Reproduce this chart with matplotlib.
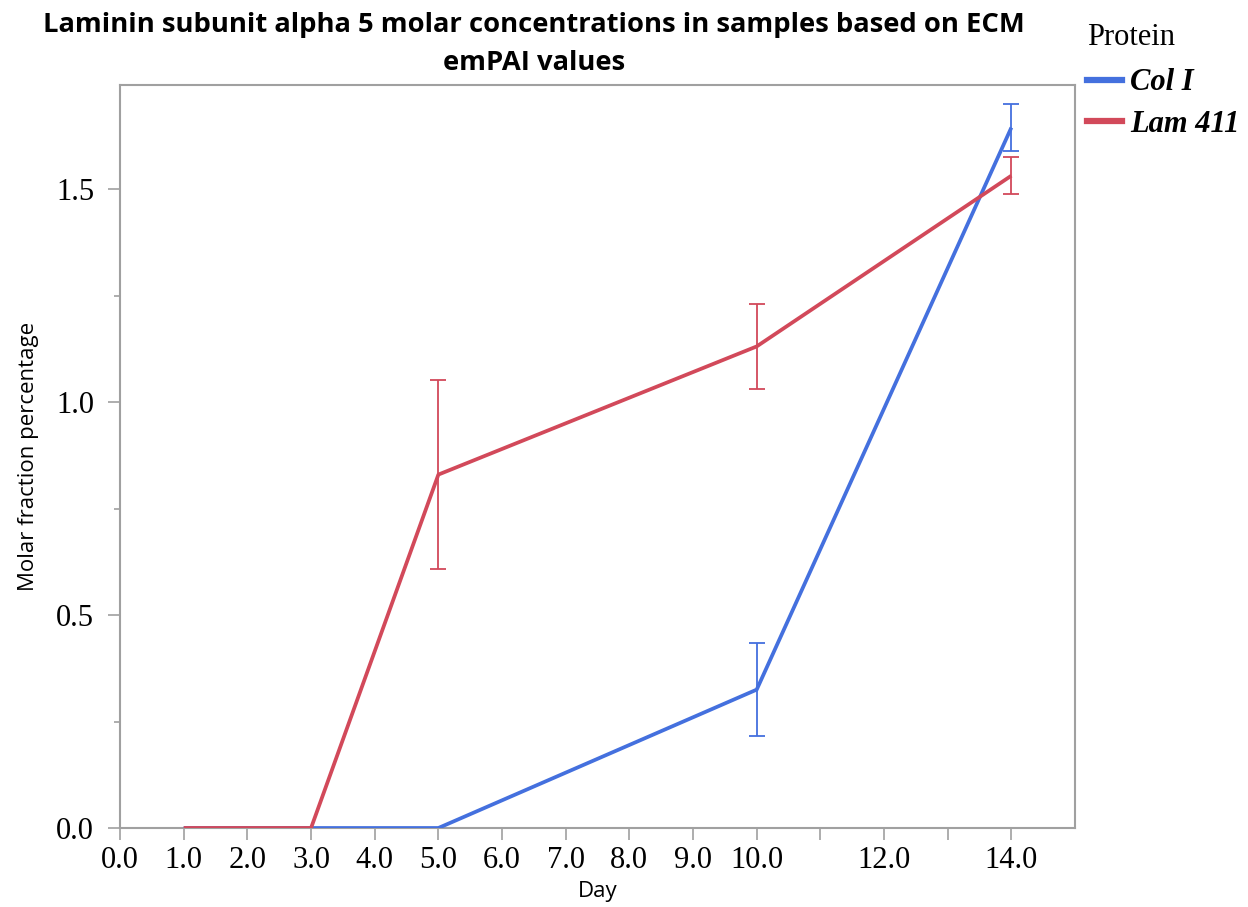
import matplotlib
matplotlib.use("Agg")
from matplotlib import pyplot as plt
from matplotlib.lines import Line2D

# данные
days = [1, 3, 5, 10, 14]
col_i = [0.0, 0.0, 0.0, 0.325, 1.645]
col_i_err = [0.0, 0.0, 0.0, 0.109, 0.055]
lam_411 = [0.0, 0.0, 0.83, 1.131, 1.532]
lam_411_err = [0.0, 0.0, 0.222, 0.10, 0.044]
series_names = ["Col I", "Lam 411"]
colors = ["#4470DE", "#D2495A"]
x_ticks = [0, 1, 2, 3, 4, 5, 6, 7, 8, 9, 10, 12, 14]
x_minor = [11, 13]
y_ticks = [0.0, 0.5, 1.0, 1.5]
y_minor = [0.25, 0.75, 1.25]

fig = plt.figure(figsize=(12.48, 9.07), dpi=100, facecolor="white")
ax = fig.add_axes([0.0962, 0.0871, 0.7652, 0.8192])

# линии с ошибками
for vals, errs, c in [(col_i, col_i_err, colors[0]), (lam_411, lam_411_err, colors[1])]:
    ax.plot(days, vals, color=c, lw=2.7, solid_capstyle="butt", zorder=3)
    idx = [i for i, e in enumerate(errs) if e > 0]
    ax.errorbar([days[i] for i in idx], [vals[i] for i in idx], yerr=[errs[i] for i in idx],
                fmt="none", ecolor=c, elinewidth=1.3, capsize=6, capthick=1.3, zorder=2)

ax.set_xlim(0, 15)
ax.set_ylim(0, 1.745)
ax.set_xticks(x_ticks)
ax.set_xticklabels(["%.1f" % t for t in x_ticks], fontfamily="Liberation Serif", fontsize=22)
ax.set_xticks(x_minor, minor=True)
ax.set_yticks(y_ticks)
ax.set_yticklabels(["%.1f" % t for t in y_ticks], fontfamily="Liberation Serif", fontsize=22)
ax.set_yticks(y_minor, minor=True)
ax.tick_params(which="major", length=8.6, width=1.2, color="#A0A0A0")
ax.tick_params(axis="y", which="major", pad=10)
ax.tick_params(axis="x", which="major", pad=4)
ax.tick_params(which="minor", length=4.3, width=1.2, color="#A0A0A0")
ax.tick_params(axis="x", which="minor", length=8.6)
for s in ax.spines.values():
    s.set_color("#A0A0A0")
    s.set_linewidth(1.5)

ax.set_xlabel("Day", fontfamily="Open Sans", fontsize=16, labelpad=5)
ax.set_ylabel("Molar fraction percentage", fontfamily="Open Sans", fontsize=16, labelpad=12)

# заголовок
fig.text(0.428, 1 - 25 / 907, "Laminin subunit alpha 5 molar concentrations in samples based on ECM",
         ha="center", va="center", fontfamily="Open Sans", fontweight="bold", fontsize=19.7)
fig.text(0.428, 1 - 63 / 907, "emPAI values",
         ha="center", va="center", fontfamily="Open Sans", fontweight="bold", fontsize=19.7)

# легенда
handles = [Line2D([], [], color=c, lw=4.5) for c in colors]
leg = fig.legend(handles, series_names, loc="upper left", bbox_to_anchor=(0.871, 0.975),
                 frameon=False, title="Protein", handlelength=1.15, handletextpad=0.25,
                 borderpad=0, borderaxespad=0,
                 prop={"family": "Liberation Serif", "weight": "bold", "style": "italic", "size": 22},
                 labelspacing=0.4)
leg.get_title().set_fontfamily("Liberation Serif")
leg.get_title().set_fontsize(22)
leg._legend_box.align = "left"
leg._legend_box.sep = 12

fig.savefig("out.png", dpi=100, facecolor="white")
